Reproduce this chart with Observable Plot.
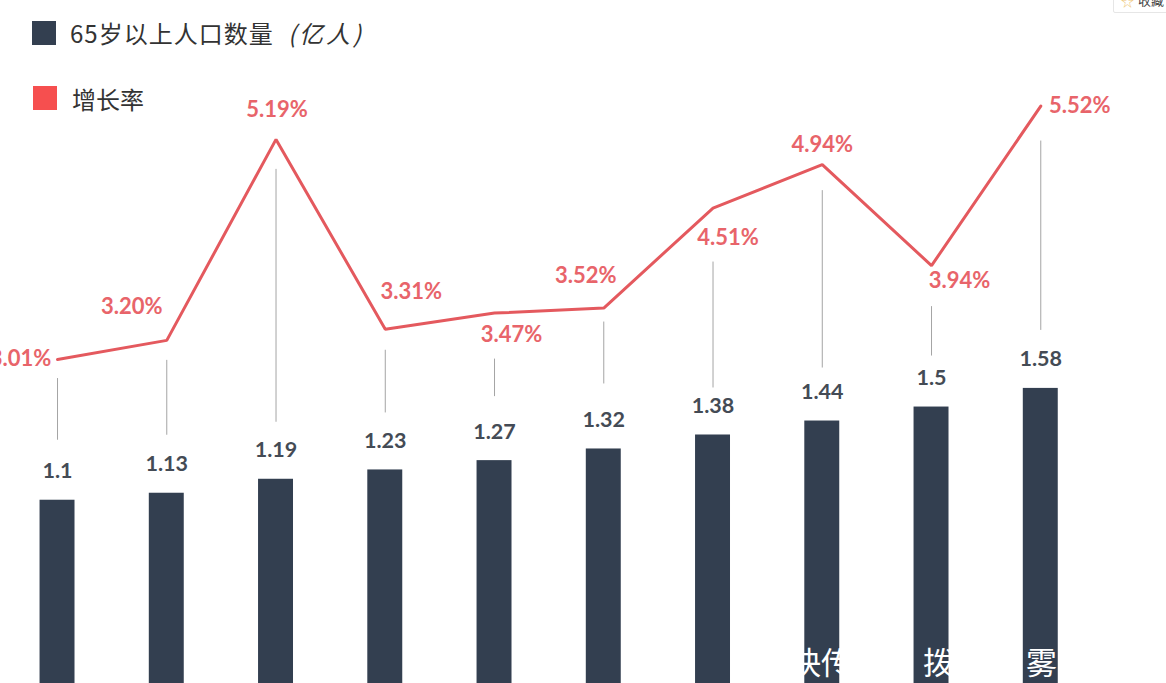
<!DOCTYPE html>
<html lang="zh">
<head>
<meta charset="utf-8">
<script src="https://cdn.jsdelivr.net/npm/d3@7"></script>
<script src="https://cdn.jsdelivr.net/npm/@observablehq/plot@0.6"></script>
<style>
html,body{margin:0;padding:0;background:#fff;overflow:hidden}
#stage{position:relative;width:1166px;height:683px;overflow:hidden;font-family:"Noto Sans CJK SC","Noto Sans",sans-serif}
#stage svg{display:block;position:absolute;left:0;top:0}
.abs{position:absolute;white-space:nowrap;line-height:1}
.sw{position:absolute;width:24px;height:24px}
</style>
</head>
<body>
<div id="stage"></div>
<script>
// Data
const years = ["2008","2009","2010","2011","2012","2013","2014","2015","2016","2017"];
const population = [1.1,1.13,1.19,1.23,1.27,1.32,1.38,1.44,1.5,1.58];
const growthRate = [3.01,3.20,5.19,3.31,3.47,3.52,4.51,4.94,3.94,5.52];

// Layout of the hand-placed annotations (pixels)
const rateLabelDx = [-37,-35,1,26,17,-18,15,0,28,39];
const rateLabelDy = [-1,-33,-29,-37,22,-32,30,-20,15,0];
const leaderGapTop = [19,20,30,21,46,14,54,26,41,35];
const leaderGapBottom = [60,58,57,57,64,65,47,53,51,58];

const navy = "#333f50", red = "#e4595e", redText = "#e8646a", grey = "#444b55";
// the rate line shares the frame through a linear secondary axis
const rateToCount = r => 0.399 + r * 0.4335;
const idx = d3.range(years.length);

const chart = Plot.plot({
  width: 1166, height: 683,
  marginTop: 0, marginRight: 0, marginBottom: 0, marginLeft: 0,
  style: {background: "transparent", overflow: "hidden"},
  x: {type: "band", domain: years, range: [2.4, 1094.9], round: false, paddingInner: 0.68, paddingOuter: 0.34, axis: null},
  y: {domain: [0, 3.245], range: [756, 0], axis: null},
  marks: [
    Plot.barY(idx, {x: i => years[i], y: i => population[i], fill: navy}),
    ...idx.map(i => Plot.ruleX([i], {
      x: j => years[j],
      y1: j => rateToCount(growthRate[j]),
      y2: j => population[j],
      insetTop: leaderGapTop[i],
      insetBottom: leaderGapBottom[i],
      stroke: "#a4a4a4", strokeWidth: 1
    })),
    Plot.line(idx, {x: i => years[i], y: i => rateToCount(growthRate[i]), stroke: red, strokeWidth: 3, curve: "linear", strokeLinejoin: "miter"}),
    Plot.text(idx, {
      x: i => years[i], y: i => population[i], text: i => String(population[i]),
      dy: -29, fill: grey, fontSize: 21.5, fontWeight: 700, fontFamily: "Lato"
    }),
    ...idx.map(i => Plot.text([i], {
      x: j => years[j], y: j => rateToCount(growthRate[j]),
      text: j => growthRate[j].toFixed(2) + "%",
      dx: rateLabelDx[i], dy: rateLabelDy[i],
      fill: redText, fontSize: 22, fontWeight: 700, fontFamily: "Lato"
    }))
  ]
});

const stage = document.getElementById("stage");
stage.appendChild(chart);

function add(cls, css, text) {
  const el = document.createElement("div");
  el.className = cls;
  el.style.cssText = css;
  if (text) el.textContent = text;
  stage.appendChild(el);
  return el;
}
// Legend
add("sw", `left:32px;top:21px;background:${navy}`);
add("abs", "left:70px;top:21px;font-size:24px;letter-spacing:1px;color:#333", "65岁以上人口数量");
add("abs", "left:288px;top:21px;font-size:24px;letter-spacing:3px;font-style:italic;color:#333", "(亿人)");
add("sw", "left:33px;top:86px;background:#f64f4f");
add("abs", "left:72px;top:87px;font-size:24px;color:#333", "增长率");
// Watermark
add("abs", "left:790px;top:645px;font-size:31px;color:#fff", "快传");
add("abs", "left:923px;top:645px;font-size:31px;color:#fff", "拨");
add("abs", "left:1026px;top:645px;font-size:31px;color:#fff", "雾");
// Corner badge
add("abs", "left:1113px;top:-10px;width:60px;height:21px;border:1px solid #e6e6e6;border-radius:2px;background:#fff");
add("abs", "left:1121px;top:-6px;font-size:13px;color:#eec77a", "☆");
add("abs", "left:1138px;top:-7px;font-size:13px;color:#444", "收藏");
</script>
</body>
</html>
